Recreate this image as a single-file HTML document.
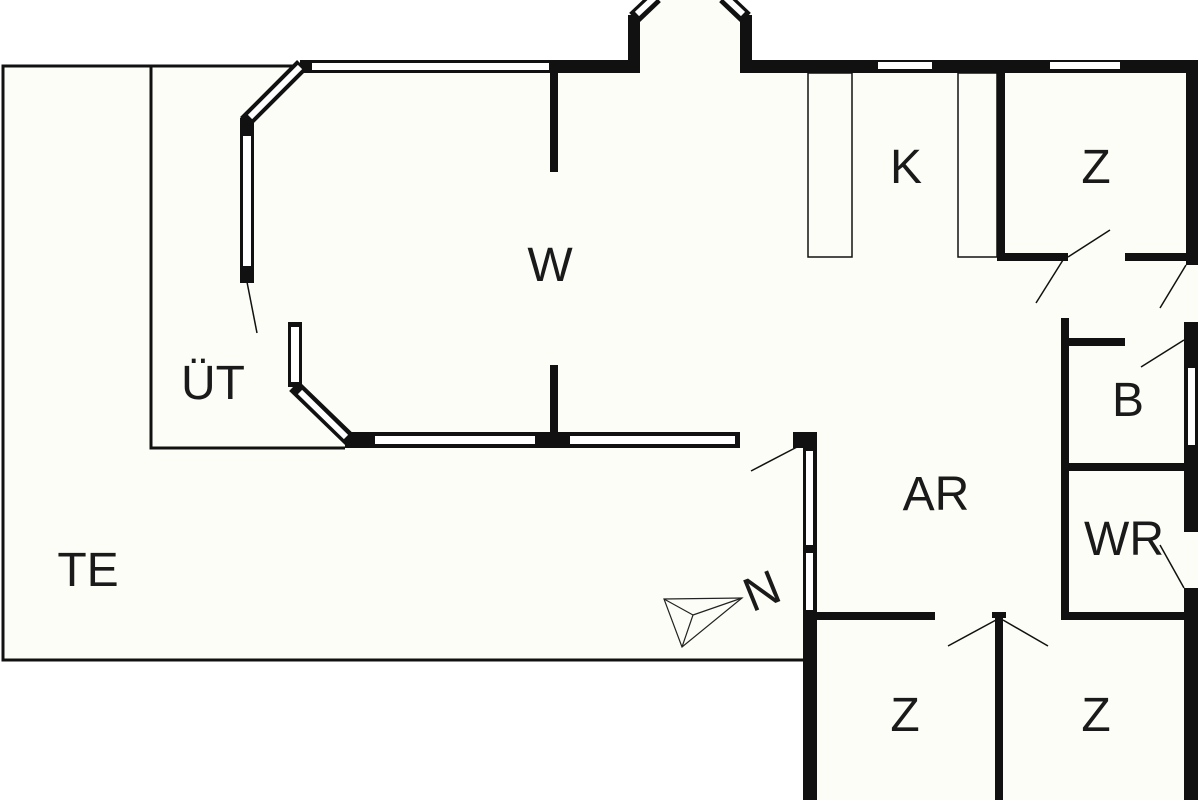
<!DOCTYPE html>
<html><head><meta charset="utf-8"><style>
html,body{margin:0;padding:0;background:#fff;}
svg{display:block}
text{font-family:"Liberation Sans",sans-serif;fill:#1a1a1a}
</style></head><body>
<svg width="1200" height="800" viewBox="0 0 1200 800" xmlns="http://www.w3.org/2000/svg">
<rect width="1200" height="800" fill="#fff"/>
<!-- floor fills -->
<g fill="#fdfdf7">
<rect x="3" y="66" width="803" height="594"/>
<polygon points="300,66 640,66 640,15 655,0 725,0 752,15 752,66 1198,66 1198,800 806,800 806,448 345,448 295,390 295,322 247,280 247,120"/>
</g>
<!-- terrace outline -->
<g fill="none" stroke="#111" stroke-width="3">
<polyline points="300,66 3,66 3,660 806,660"/>
<polyline points="151,66 151,448 345,448"/>
</g>
<g fill="#111">
<!-- top wall -->
<rect x="300" y="60" width="252" height="13"/>
<rect x="550" y="60" width="90" height="13"/>
<rect x="628" y="15" width="12" height="58"/>
<rect x="740" y="15" width="12" height="58"/>
<rect x="740" y="60" width="458" height="13"/>
<rect x="1186" y="60" width="12" height="205"/>
<rect x="1184" y="322" width="14" height="210"/>
<rect x="1184" y="588" width="14" height="212"/>
<!-- W dividers -->
<rect x="550" y="73" width="8" height="99"/>
<rect x="550" y="365" width="8" height="70"/>
<!-- bottom W wall -->
<rect x="345" y="432" width="395" height="16"/>
<rect x="793" y="432" width="24" height="16"/>
<rect x="803" y="448" width="14" height="164"/>
<rect x="803" y="612" width="14" height="188"/>
<!-- Z top right -->
<rect x="997" y="73" width="8" height="188"/>
<rect x="997" y="253" width="71" height="8"/>
<rect x="1125" y="253" width="65" height="8"/>
<!-- B/WR -->
<rect x="1061" y="318" width="8" height="302"/>
<rect x="1061" y="338" width="64" height="8"/>
<rect x="1061" y="463" width="129" height="8"/>
<rect x="1061" y="612" width="129" height="8"/>
<rect x="806" y="612" width="129" height="8"/>
<rect x="995" y="612" width="8" height="188"/>
<rect x="992" y="612" width="14" height="6"/>
<!-- left bay -->
<rect x="240" y="118" width="14" height="165"/>
<rect x="288" y="322" width="14" height="65"/>
</g>
<!-- diagonal bay walls -->
<g stroke="#111" stroke-width="14" stroke-linecap="butt">
<line x1="302" y1="65" x2="245" y2="122"/>
<line x1="294" y1="386" x2="352" y2="442"/>
<line x1="634" y1="18" x2="656" y2="-3"/>
<line x1="746" y1="18" x2="724" y2="-3"/>
</g>
<!-- windows (white insets) -->
<g fill="#fff">
<rect x="312" y="63" width="237" height="7"/>
<rect x="878" y="62" width="54" height="7"/>
<rect x="1050" y="62" width="70" height="7"/>
<rect x="1188" y="368" width="7" height="77"/>
<rect x="243" y="136" width="8" height="130"/>
<rect x="291" y="327" width="8" height="55"/>
<rect x="375" y="436" width="160" height="8"/>
<rect x="570" y="436" width="165" height="8"/>
<rect x="806" y="451" width="7" height="94"/>
<rect x="806" y="553" width="7" height="57"/>
</g>
<g stroke="#fff" stroke-width="6">
<line x1="300" y1="67" x2="250" y2="117"/>
<line x1="300" y1="392" x2="346" y2="437"/>
<line x1="637" y1="14" x2="654" y2="-2"/>
<line x1="743" y1="14" x2="726" y2="-2"/>
</g>
<!-- kitchen counters -->
<g fill="none" stroke="#111" stroke-width="1.5">
<rect x="808" y="73" width="44" height="184"/>
<rect x="958" y="73" width="39" height="184"/>
</g>
<!-- door swings -->
<g stroke="#111" stroke-width="1.5">
<line x1="247" y1="282" x2="257" y2="333"/>
<line x1="797" y1="447" x2="751" y2="471"/>
<line x1="1068" y1="257" x2="1110" y2="230"/>
<line x1="1063" y1="260" x2="1036" y2="303"/>
<line x1="1186" y1="265" x2="1160" y2="308"/>
<line x1="1184" y1="340" x2="1141" y2="367"/>
<line x1="1184" y1="588" x2="1160" y2="545"/>
<line x1="996" y1="620" x2="948" y2="646"/>
<line x1="1003" y1="620" x2="1048" y2="646"/>
</g>
<!-- compass -->
<g fill="none" stroke="#222" stroke-width="1.2">
<polygon points="664,599 742,598 682,647"/>
<line x1="693" y1="615" x2="742" y2="598"/>
<line x1="693" y1="615" x2="664" y2="599"/>
<line x1="693" y1="615" x2="682" y2="647"/>
</g>
<!-- labels -->
<g font-size="48" text-anchor="middle">
<text x="550" y="281">W</text>
<text x="906" y="183">K</text>
<text x="1096" y="183">Z</text>
<text x="213" y="399">ÜT</text>
<text x="88" y="586">TE</text>
<text x="936" y="510">AR</text>
<text x="1128" y="416">B</text>
<text x="1124" y="555">WR</text>
<text x="905" y="731">Z</text>
<text x="1096" y="731">Z</text>
<text x="0" y="0" transform="translate(768,606) rotate(-22)">N</text>
</g>
</svg>
</body></html>
